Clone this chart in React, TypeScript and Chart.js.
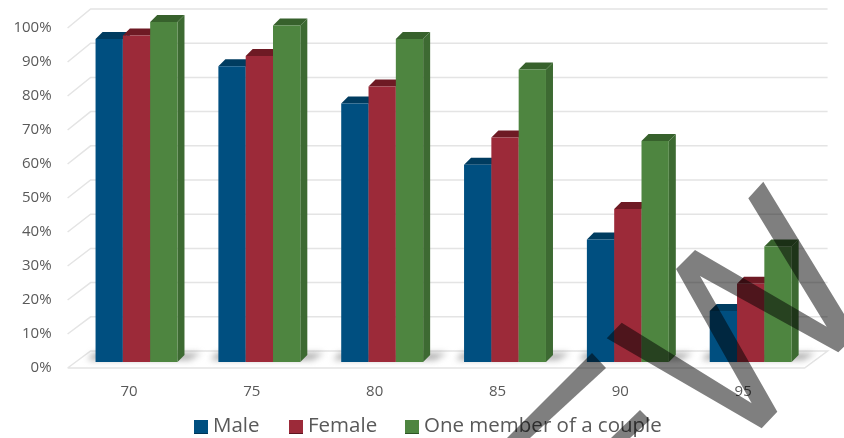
import React, { useEffect, useRef } from "react";
import { Chart, registerables } from "chart.js";

Chart.register(...registerables);

// Share of each group still living at the given age
const ages = ["70", "75", "80", "85", "90", "95"];
const male = [95, 87, 76, 58, 36, 15];
const female = [96, 90, 81, 66, 45, 23];
const couple = [100, 99, 95, 86, 65, 34];

const seriesNames = ["Male", "Female", "One member of a couple"];
const seriesValues = [male, female, couple];
const frontColors = ["#004f80", "#9c2a39", "#4e8540"];
const topColors = ["#003c60", "#6e1a24", "#37612c"];
const sideColors = ["#003c60", "#6e1a24", "#3d6a32"];
const legendEdges = ["#003455", "#5e1520", "#2f5426"];

const FONT = '"Open Sans", sans-serif';
const TEXT = "#595959";
const GRID = "#e4e4e4";

// Perspective of the walls, and of the bars that stand midway in the floor
const WALL_DX = 23;
const WALL_DY_FLOOR = -17;
const WALL_DY_TOP = -19;
const BAR_SHIFT_X = 7.5;
const BAR_SHIFT_Y = -6;
const BAR_DEPTH_X = 7;
const BAR_DEPTH_Y = -7;

// Legend row
const LEGEND_Y = 427;
const LEGEND_BOX = 14;
const LEGEND_STARTS = [194, 289, 405];

// Translucent stamp laid over the finished chart
const stampShapes: number[][][] = [
  [[606.7, 338.3], [621.7, 322.7], [751.7, 403.3], [676, 269], [695, 250], [826.7, 326.7], [748.3, 198.3],
   [763.3, 181.7], [856.7, 334.7], [838.3, 352.3], [700, 276], [777.3, 411.7], [761.7, 428.3]],
  [[592, 353], [606, 368], [530, 438], [507, 438]],
  [[640, 410], [650, 420], [630, 438], [611, 438]],
];

function fillPoly(ctx: CanvasRenderingContext2D, pts: number[][], color: string) {
  ctx.beginPath();
  pts.forEach(([x, y], i) => (i ? ctx.lineTo(x, y) : ctx.moveTo(x, y)));
  ctx.closePath();
  ctx.fillStyle = color;
  ctx.fill();
}

// Back wall, side wall and floor, hung from the value axis
const wallsPlugin = {
  id: "walls",
  beforeDatasetsDraw(chart: any) {
    const { ctx, chartArea, scales } = chart;
    const { left, right } = chartArea;
    ctx.save();
    ctx.strokeStyle = GRID;
    ctx.lineWidth = 1.5;
    scales.y.ticks.forEach((t: any) => {
      const y = scales.y.getPixelForValue(t.value);
      const rise = WALL_DY_FLOOR + ((WALL_DY_TOP - WALL_DY_FLOOR) * t.value) / 100;
      ctx.beginPath();
      ctx.moveTo(left, y);
      ctx.lineTo(left + WALL_DX, y + rise);
      ctx.lineTo(right + WALL_DX, y + rise);
      if (t.value === 0) {
        ctx.lineTo(right, y);
        ctx.lineTo(left, y);
      }
      ctx.stroke();
    });
    ctx.restore();
  },
};

// Draws every bar as a block: floor shadow, top, side, then the library's front face
const blocksPlugin = {
  id: "blocks",
  beforeDatasetDraw() {
    return false;
  },
  afterDatasetsDraw(chart: any) {
    const { ctx } = chart;
    const n = chart.data.labels.length;
    ctx.save();
    ctx.translate(BAR_SHIFT_X, BAR_SHIFT_Y);

    for (let i = 0; i < n; i++) {
      const first = chart.getDatasetMeta(0).data[i].getProps(["x", "width", "base"], true);
      const last = chart.getDatasetMeta(seriesValues.length - 1).data[i].getProps(["x", "width"], true);
      const x0 = first.x - first.width / 2;
      const x1 = last.x + last.width / 2;
      const b = first.base;
      ctx.save();
      ctx.filter = "blur(3px)";
      fillPoly(ctx, [[x0 - 8, b - 2], [x0 - 2, b - 9], [x1 + 24, b - 9], [x1 + 12, b - 2]], "rgba(120,120,120,0.6)");
      ctx.restore();
    }

    seriesValues.forEach((_, s) => {
      chart.getDatasetMeta(s).data.forEach((bar: any) => {
        const { x, y, base, width } = bar.getProps(["x", "y", "base", "width"], true);
        const l = x - width / 2;
        const r = x + width / 2;
        fillPoly(ctx, [[l, y], [l + BAR_DEPTH_X, y + BAR_DEPTH_Y], [r + BAR_DEPTH_X, y + BAR_DEPTH_Y], [r, y]], topColors[s]);
        fillPoly(ctx, [[r, y], [r + BAR_DEPTH_X, y + BAR_DEPTH_Y], [r + BAR_DEPTH_X, base + BAR_DEPTH_Y], [r, base]], sideColors[s]);
        bar.draw(ctx);
      });
    });
    ctx.restore();
  },
};

const legendPlugin = {
  id: "legendRow",
  afterDraw(chart: any) {
    const { ctx } = chart;
    ctx.save();
    ctx.font = `20.5px ${FONT}`;
    ctx.textBaseline = "middle";
    ctx.textAlign = "left";
    chart.data.datasets.forEach((ds: any, s: number) => {
      const x = LEGEND_STARTS[s];
      const top = LEGEND_Y - LEGEND_BOX / 2;
      ctx.fillStyle = ds.backgroundColor;
      ctx.fillRect(x, top, LEGEND_BOX, LEGEND_BOX);
      ctx.fillStyle = legendEdges[s];
      ctx.fillRect(x, top + LEGEND_BOX - 1, LEGEND_BOX, 1);
      ctx.fillStyle = TEXT;
      ctx.fillText(ds.label, x + LEGEND_BOX + 5, LEGEND_Y - 1);
    });
    ctx.restore();
  },
};

const stampPlugin = {
  id: "stamp",
  afterDraw(chart: any) {
    stampShapes.forEach((shape) => fillPoly(chart.ctx, shape, "rgba(0,0,0,0.5)"));
  },
};

export default function App() {
  const ref = useRef<HTMLCanvasElement>(null);

  useEffect(() => {
    const chart = new Chart(ref.current!, {
      type: "bar",
      data: {
        labels: ages,
        datasets: seriesNames.map((label, s) => ({
          label,
          data: seriesValues[s],
          backgroundColor: frontColors[s],
          categoryPercentage: 0.667,
          barPercentage: 1,
        })),
      },
      options: {
        responsive: false,
        animation: false,
        layout: { padding: { top: 28, right: 39.4, left: 0, bottom: 0 } },
        plugins: { legend: { display: false }, tooltip: { enabled: false } },
        scales: {
          x: {
            grid: { display: false },
            border: { display: false },
            ticks: { color: TEXT, font: { family: FONT, size: 15 }, padding: 7, maxRotation: 0 },
            afterFit(scale: any) {
              scale.height = 70;
            },
          },
          y: {
            min: 0,
            max: 100,
            grid: { display: false, drawTicks: false },
            border: { display: false },
            ticks: {
              stepSize: 10,
              color: TEXT,
              font: { family: FONT, size: 15 },
              padding: 16,
              callback: (v: any) => `${v}%`,
            },
            afterFit(scale: any) {
              scale.width = 67.6;
            },
          },
        },
      },
      plugins: [wallsPlugin, blocksPlugin, legendPlugin, stampPlugin],
    } as any);
    return () => chart.destroy();
  }, []);

  return (
    <canvas
      ref={ref}
      width={844}
      height={438}
      style={{ position: "absolute", left: 0, top: 0, display: "block" }}
    />
  );
}
